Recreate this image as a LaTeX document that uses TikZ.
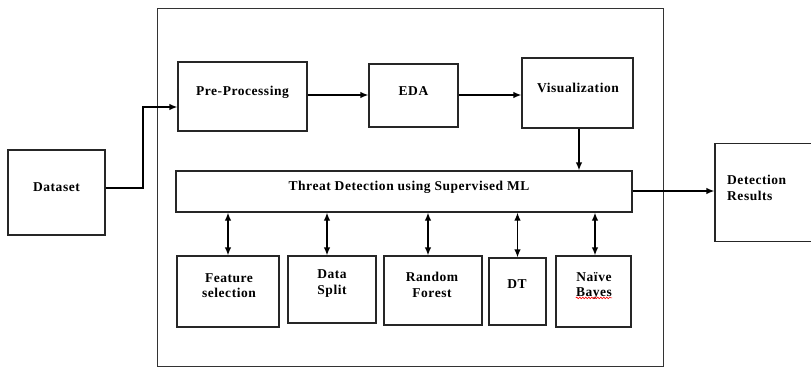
\documentclass[tikz,border=0pt]{standalone}
\usepackage{fontspec}
\setmainfont{Liberation Serif}
\newfontfamily\lblfont[LetterSpace=4]{Liberation Serif}
\usetikzlibrary{arrows.meta,decorations.pathmorphing}
\tikzset{
  box/.style={draw=black!85, line width=1.3pt, fill=white, inner sep=0pt},
  frame/.style={draw=black!80, line width=1pt},
  lbl/.style={font=\lblfont\bfseries\fontsize{13.5}{15.5}\selectfont, align=center, inner sep=0pt},
  arr/.style={line width=1.3pt, -{Latex[length=8pt,width=6.5pt]}},
  dbl/.style={line width=1.3pt, {Latex[length=8pt,width=6.5pt]}-{Latex[length=8pt,width=6.5pt]}},
}
\begin{document}
\begin{tikzpicture}[x=1pt,y=-1pt]
\useasboundingbox (0,0) rectangle (811,368);
% outer frame
\node[frame, minimum width=506, minimum height=358, inner sep=0pt] (outer) at (410,187) {};
% boxes
\node[box, minimum width=97, minimum height=85] (data) at (56.5,192.5) {};
\node[box, minimum width=129, minimum height=69] (pp) at (242.5,96.5) {};
\node[box, minimum width=89, minimum height=63] (eda) at (413.5,95.5) {};
\node[box, minimum width=111, minimum height=70] (vis) at (577.5,93) {};
\node[box, minimum width=456, minimum height=41] (threat) at (404,191.5) {};
\node[box, minimum width=100, minimum height=98] (det) at (765,192.5) {};
\node[box, minimum width=102, minimum height=71] (fs) at (228,291.5) {};
\node[box, minimum width=88, minimum height=67] (dsp) at (332,289.5) {};
\node[box, minimum width=98, minimum height=69] (rf) at (433,290.5) {};
\node[box, minimum width=57, minimum height=67] (dt) at (517.5,291.5) {};
\node[box, minimum width=75, minimum height=71] (nb) at (593.5,291.5) {};
% labels
\node[lbl] (datat) at (56.5,187) {Dataset};
\node[lbl] (ppt) at (242.5,92) {Pre-Processing};
\node[lbl] (edat) at (413.5,91) {EDA};
\node[lbl] (vist) at (578,87.5) {Visualization};
\node[lbl] (threatt) at (409,187) {Threat Detection using Supervised ML};
\node[lbl, align=left, anchor=west] (dett) at (727,188) {Detection\\Results};
\node[lbl] (fst) at (229,285.5) {Feature\\selection};
\node[lbl] (dspt) at (332,283.5) {Data\\Split};
\node[lbl] (rft) at (432,285) {Random\\Forest};
\node[lbl] (dtt) at (517,284) {DT};
\node[lbl] (nbt) at (594,286) {Naïve\\Bayes};
\draw[red, line width=0.6pt, decorate, decoration={snake, amplitude=0.8pt, segment length=3pt}]
  ([yshift=2]nbt.south west) -- ([yshift=2]nbt.south east);
% connectors
\coordinate (bend1) at (143,188);
\coordinate (bend2) at (143,107);
\draw[arr] (data.east |- bend1) -- (bend1) -- (bend2) -- (pp.west |- bend2);
\draw[arr] (pp.east |- 0,95) -- (eda.west |- 0,95);
\draw[arr] (eda.east |- 0,95) -- (vis.west |- 0,95);
\draw[arr] (vis.south -| 579,0) -- (threat.north -| 579,0);
\draw[arr] (threat.east |- 0,191) -- (det.west |- 0,191);
\draw[dbl] (threat.south -| fs.north) -- (fs.north);
\draw[dbl] ([xshift=-5]threat.south -| dsp.north) -- ([xshift=-5]dsp.north);
\draw[dbl] ([xshift=-5]threat.south -| rf.north) -- ([xshift=-5]rf.north);
\draw[dbl] (threat.south -| dt.north) -- (dt.north);
\draw[dbl] ([xshift=1.5]threat.south -| nb.north) -- ([xshift=1.5]nb.north);
\end{tikzpicture}
\end{document}
